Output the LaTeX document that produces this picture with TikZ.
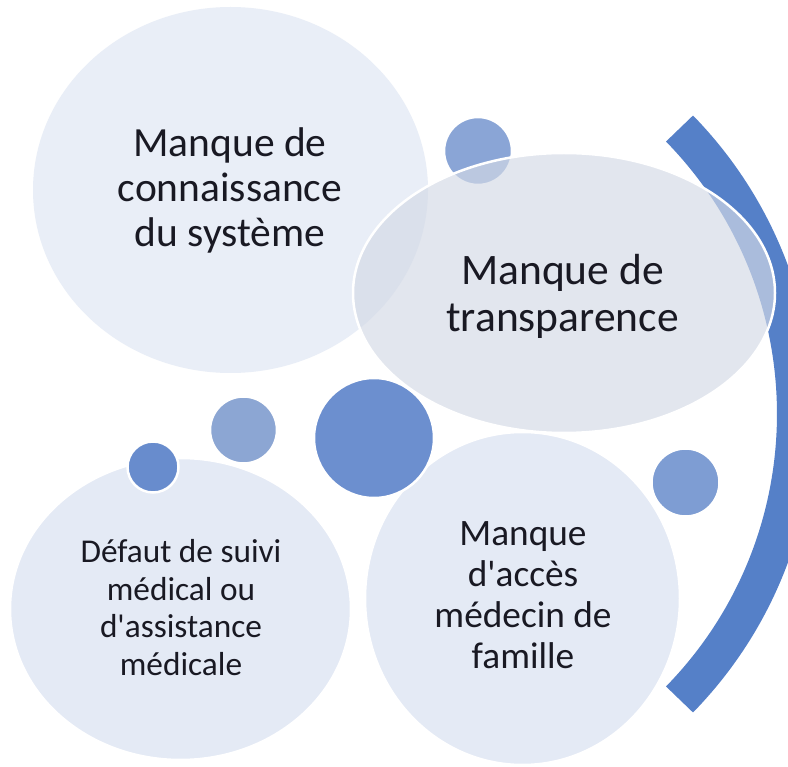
\documentclass[tikz,border=0pt]{standalone}
\usepackage{fontspec}
\setmainfont{Carlito}
\usetikzlibrary{shapes.geometric}

% palette
\definecolor{bubbleA}{RGB}{233,238,247}
\definecolor{bubbleB}{RGB}{212,218,230}
\definecolor{bubbleC}{RGB}{228,234,245}
\definecolor{dotLight}{RGB}{138,165,214}
\definecolor{dotMid}{RGB}{140,166,211}
\definecolor{dotDeep}{RGB}{108,143,207}
\definecolor{dotDark}{RGB}{104,140,205}
\definecolor{dotSoft}{RGB}{126,157,211}
\definecolor{bandBlue}{RGB}{85,128,200}
\definecolor{inkDark}{RGB}{25,25,35}

\tikzset{
  bubble/.style={ellipse, inner sep=0pt, draw=white, line width=2.5pt},
  dot/.style={circle, inner sep=0pt, draw=white, line width=2.5pt},
  % texts are placed by the baseline of their last line
  label text/.style={align=center, text=inkDark, anchor=base, inner sep=0pt},
}

\begin{document}
\begin{tikzpicture}[x=1pt, y=-1pt]
  \clip (0,0) rectangle (788,767);
  \fill[white] (0,0) rectangle (788,767);

  % large background bubble, upper left
  \node[bubble, draw=none, fill=bubbleA, minimum width=395pt, minimum height=366pt] (b1) at (230.5,190) {};

  % small dot partly hidden by the central bubble
  \node[dot, fill=dotLight, minimum size=68pt] (d1) at (478,151) {};

  % sweeping band on the right
  \coordinate (bandc) at (387,414);
  \draw[bandBlue, line width=37.5pt] (bandc) ++(-44.3:408.75)
    arc[start angle=-44.3, end angle=44.3, radius=408.75];

  % translucent central bubble
  \node[bubble, fill=bubbleB, fill opacity=0.67, minimum width=422pt, minimum height=280pt] (b2) at (564,293) {};

  % lower bubbles
  \node[bubble, fill=bubbleC, minimum width=341pt, minimum height=302pt] (b3) at (180.5,609) {};
  \node[bubble, fill=bubbleC, minimum width=315pt, minimum height=333pt] (b4) at (522.5,598.5) {};

  % connecting dots
  \node[dot, fill=dotDark, minimum size=51pt] (d2) at (153,467) {};
  \node[dot, fill=dotMid, minimum size=67pt] (d3) at (243.5,430) {};
  \node[dot, fill=dotDeep, minimum size=120pt] (d4) at (374,438) {};
  \node[dot, fill=dotSoft, minimum size=68pt] (d5) at (685.5,482.5) {};

  % texts
  \node[label text, font=\fontsize{41.5}{45}\selectfont] (t1) at (230,247)
    {Manque de\\connaissance\\du système};
  \node[label text, font=\fontsize{43.5}{47}\selectfont] (t2) at (562.5,332)
    {Manque de\\transparence};
  \node[label text, font=\fontsize{33.3}{37.5}\selectfont] (t3) at (181,675)
    {Défaut de suivi\\médical ou\\d\textquotesingle assistance\\médicale};
  \node[label text, font=\fontsize{37.3}{41}\selectfont] (t4) at (523,668)
    {Manque\\d\textquotesingle accès\\médecin de\\famille};
\end{tikzpicture}
\end{document}
